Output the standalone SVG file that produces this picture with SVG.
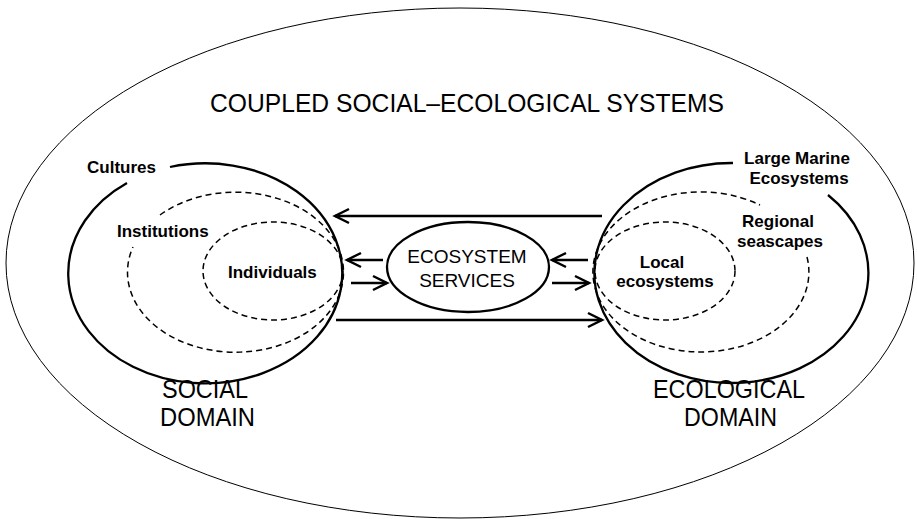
<svg xmlns="http://www.w3.org/2000/svg" width="917" height="519" viewBox="0 0 917 519">
<style>
.solid{fill:none;stroke:#000;stroke-width:2.3}
.dash{fill:none;stroke:#000;stroke-width:1.5;stroke-dasharray:6 4}
.lbl{font-family:"Liberation Sans",Arial,sans-serif;font-weight:bold;font-size:17px;fill:#000}
.big{font-family:"Liberation Sans",Arial,sans-serif;font-size:25px;fill:#000}
.es{font-family:"Liberation Sans",Arial,sans-serif;font-size:19px;fill:#000}
.arr{fill:none;stroke:#000;stroke-width:2.5}
</style>
<defs>
<marker id="ah" markerUnits="userSpaceOnUse" markerWidth="20" markerHeight="20" refX="0" refY="0" viewBox="-16 -10 20 20" orient="auto">
<path d="M-14,-7 L0,0 L-14,7" fill="none" stroke="#000" stroke-width="2.5"/>
</marker>
</defs>
<rect width="917" height="519" fill="#fff"/>
<g id="coupled-system">
<ellipse cx="460" cy="263" rx="454" ry="255" fill="none" stroke="#000" stroke-width="1"/>
<text class="big" x="210" y="112" font-size="24.6" textLength="514" lengthAdjust="spacingAndGlyphs">COUPLED SOCIAL–ECOLOGICAL SYSTEMS</text>
</g>
<g id="social-domain">
<path class="solid" d="M170,167 A137,110 0 1 1 127,183"/>
<text class="lbl" x="87" y="173">Cultures</text>
<text class="big" x="162" y="398" textLength="86" lengthAdjust="spacingAndGlyphs">SOCIAL</text>
<text class="big" x="160" y="426" textLength="95" lengthAdjust="spacingAndGlyphs">DOMAIN</text>
</g>
<g id="institutions">
<path class="dash" d="M160,215 A108,80 0 1 1 133,247"/>
<text class="lbl" x="117" y="237">Institutions</text>
</g>
<g id="individuals">
<ellipse class="dash" cx="273" cy="271" rx="70" ry="49"/>
<text class="lbl" x="228" y="278">Individuals</text>
</g>
<g id="ecological-domain">
<path class="solid" d="M828,195 A137,110 0 1 1 733,163"/>
<text class="lbl" x="797" y="164" text-anchor="middle">Large Marine</text>
<text class="lbl" x="799" y="184" text-anchor="middle">Ecosystems</text>
<text class="big" x="653" y="398" textLength="152" lengthAdjust="spacingAndGlyphs">ECOLOGICAL</text>
<text class="big" x="684" y="426" textLength="93" lengthAdjust="spacingAndGlyphs">DOMAIN</text>
</g>
<g id="regional-seascapes">
<path class="dash" d="M807,257 A108,80 0 1 1 760,205"/>
<text class="lbl" x="778" y="227" text-anchor="middle">Regional</text>
<text class="lbl" x="780" y="247" text-anchor="middle">seascapes</text>
</g>
<g id="local-ecosystems">
<ellipse class="dash" cx="665" cy="271" rx="70" ry="49"/>
<text class="lbl" x="662" y="268" text-anchor="middle">Local</text>
<text class="lbl" x="665" y="287" text-anchor="middle">ecosystems</text>
</g>
<g id="ecosystem-services">
<ellipse class="solid" cx="468" cy="267" rx="81" ry="45" stroke-width="2"/>
<text class="es" x="467" y="263" text-anchor="middle">ECOSYSTEM</text>
<text class="es" x="467" y="287" text-anchor="middle">SERVICES</text>
</g>
<g id="connectors">
<line class="arr" x1="602" y1="216" x2="335" y2="216" marker-end="url(#ah)"/>
<line class="arr" x1="336" y1="320" x2="602" y2="320" marker-end="url(#ah)"/>
<line class="arr" x1="383" y1="260" x2="347" y2="260" marker-end="url(#ah)"/>
<line class="arr" x1="351" y1="283" x2="387" y2="283" marker-end="url(#ah)"/>
<line class="arr" x1="588" y1="260" x2="552" y2="260" marker-end="url(#ah)"/>
<line class="arr" x1="552" y1="283" x2="589" y2="283" marker-end="url(#ah)"/>
</g>
</svg>
